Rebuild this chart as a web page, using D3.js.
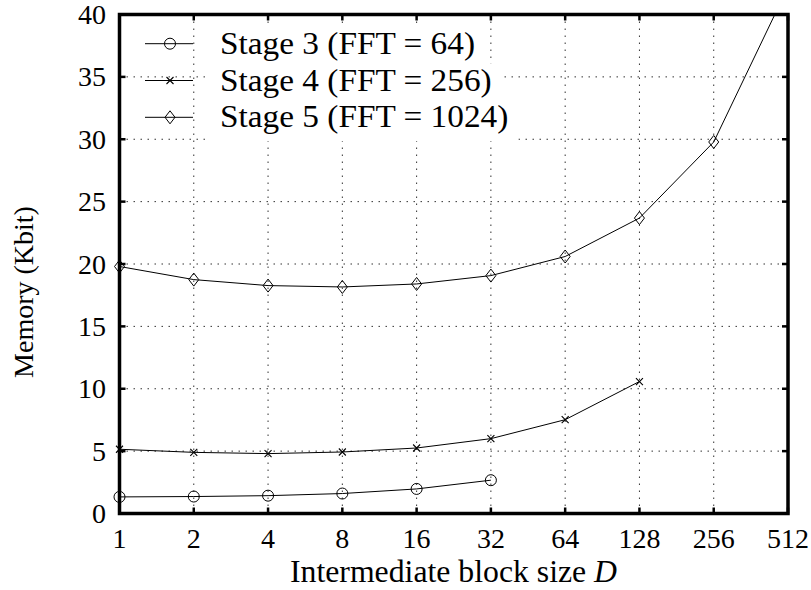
<!DOCTYPE html>
<html><head><meta charset="utf-8">
<script src="https://cdn.jsdelivr.net/npm/d3@7"></script>
<style>body{margin:0;background:#fff}</style>
</head><body>
<svg id="c" width="811" height="590"></svg>
<script>
const blockSizes = [1, 2, 4, 8, 16, 32, 64, 128, 256, 512];
const yTicks = [0, 5, 10, 15, 20, 25, 30, 35, 40];
const stage3 = [1.33, 1.36, 1.43, 1.6, 1.97, 2.67];
const stage4 = [5.15, 4.9, 4.8, 4.93, 5.25, 6.0, 7.52, 10.58];
const stage5 = [19.8, 18.75, 18.27, 18.16, 18.4, 19.07, 20.6, 23.68, 29.78, 42.2];
const seriesNames = ["Stage 3 (FFT = 64)", "Stage 4 (FFT = 256)", "Stage 5 (FFT = 1024)"];
const markers = ["circle", "cross", "diamond"];

const L = 119.5, R = 788, T = 14.5, B = 513.5;
const svg = d3.select("#c");
const font = "'Liberation Serif', 'DejaVu Serif', serif";
const x = d3.scaleLog().base(2).domain([1, 512]).range([L, R]);
const y = d3.scaleLinear().domain([0, 40]).range([B, T]);

// grid
const grid = svg.append("g").attr("stroke", "#333").attr("stroke-width", 1).attr("stroke-dasharray", "1.5,5.5");
grid.selectAll(".gx").data(blockSizes.slice(1, -1)).join("line")
  .attr("x1", d => x(d)).attr("x2", d => x(d)).attr("y1", T).attr("y2", B);
grid.selectAll(".gy").data(yTicks.slice(1, -1)).join("line")
  .attr("y1", d => y(d)).attr("y2", d => y(d)).attr("x1", L).attr("x2", R);

// series
svg.append("clipPath").attr("id", "clip").append("rect")
  .attr("x", L).attr("y", T).attr("width", R - L).attr("height", B - T);
const series = [stage3, stage4, stage5];
const line = d3.line().x((d, i) => x(blockSizes[i])).y(d => y(d));

function drawMarker(g, type, cx, cy) {
  if (type === "circle") {
    g.append("circle").attr("cx", cx).attr("cy", cy).attr("r", 5.5)
      .attr("fill", "none").attr("stroke", "#000").attr("stroke-width", 1);
  } else if (type === "cross") {
    const s = 3.5;
    g.append("path").attr("d", `M${cx-s},${cy-s}L${cx+s},${cy+s}M${cx-s},${cy+s}L${cx+s},${cy-s}`)
      .attr("stroke", "#000").attr("stroke-width", 1.1).attr("fill", "none");
  } else {
    const w = 5, h = 6.5;
    g.append("path").attr("d", `M${cx},${cy-h}L${cx+w},${cy}L${cx},${cy+h}L${cx-w},${cy}Z`)
      .attr("stroke", "#000").attr("stroke-width", 1).attr("fill", "none");
  }
}

const sg = svg.append("g").attr("clip-path", "url(#clip)");
series.forEach((s, k) => {
  sg.append("path").datum(s).attr("d", line).attr("fill", "none").attr("stroke", "#000").attr("stroke-width", 1);
});
const mg = svg.append("g");
series.forEach((s, k) => {
  s.forEach((v, i) => { if (v <= 40) drawMarker(mg, markers[k], x(blockSizes[i]), y(v)); });
});

// legend
const lg = svg.append("g");
const bgG = lg.append("g");
const rows = [43.7, 80.5, 117.3];
let stretch = null;
seriesNames.forEach((name, k) => {
  const t = lg.append("text").attr("x", 220).attr("y", rows[k] + 10)
    .attr("font-family", font).attr("font-size", 31).text(name);
  const w = t.node().getComputedTextLength();
  if (stretch === null) stretch = 255 / w;
  const tw = w * stretch;
  t.attr("textLength", tw).attr("lengthAdjust", "spacingAndGlyphs");
  bgG.append("rect").attr("x", 210).attr("y", rows[k] - 17).attr("width", tw + 20).attr("height", 41).attr("fill", "#fff");
  lg.append("line").attr("x1", 145).attr("x2", 193).attr("y1", rows[k]).attr("y2", rows[k]).attr("stroke", "#000").attr("stroke-width", 1);
  drawMarker(lg, markers[k], 170, rows[k]);
});

// frame & ticks
const ax = svg.append("g").attr("stroke", "#000");
ax.selectAll(".tb").data(blockSizes).join("line").attr("stroke-width", 2.5)
  .attr("x1", d => x(d)).attr("x2", d => x(d)).attr("y1", B).attr("y2", B - 6);
ax.selectAll(".tt").data(blockSizes).join("line").attr("stroke-width", 2.5)
  .attr("x1", d => x(d)).attr("x2", d => x(d)).attr("y1", T).attr("y2", T + 6);
ax.selectAll(".tl").data(yTicks).join("line").attr("stroke-width", 2.5)
  .attr("y1", d => y(d)).attr("y2", d => y(d)).attr("x1", L).attr("x2", L + 6);
ax.selectAll(".tr").data(yTicks).join("line").attr("stroke-width", 2.5)
  .attr("y1", d => y(d)).attr("y2", d => y(d)).attr("x1", R).attr("x2", R - 6);
ax.append("rect").attr("x", L).attr("y", T).attr("width", R - L).attr("height", B - T)
  .attr("fill", "none").attr("stroke-width", 3.5);

// tick labels
svg.append("g").selectAll("text").data(blockSizes).join("text")
  .attr("x", d => x(d)).attr("y", 548).attr("text-anchor", "middle")
  .attr("font-family", font).attr("font-size", 28).text(d => d);
svg.append("g").selectAll("text").data(yTicks).join("text")
  .attr("x", 106).attr("y", d => y(d) + 9.5).attr("text-anchor", "end")
  .attr("font-family", font).attr("font-size", 28).text(d => d);

// axis labels
const xl = svg.append("text").attr("x", 453.5).attr("y", 582).attr("text-anchor", "middle")
  .attr("font-family", font).attr("font-size", 31);
xl.append("tspan").text("Intermediate block size ");
xl.append("tspan").attr("font-style", "italic").text("D");
const xw = xl.node().getComputedTextLength();
xl.attr("textLength", 327).attr("lengthAdjust", "spacingAndGlyphs");
svg.append("text").attr("transform", "translate(33,292) rotate(-90)").attr("text-anchor", "middle")
  .attr("font-family", font).attr("font-size", 28).text("Memory (Kbit)");
</script>
</body></html>
